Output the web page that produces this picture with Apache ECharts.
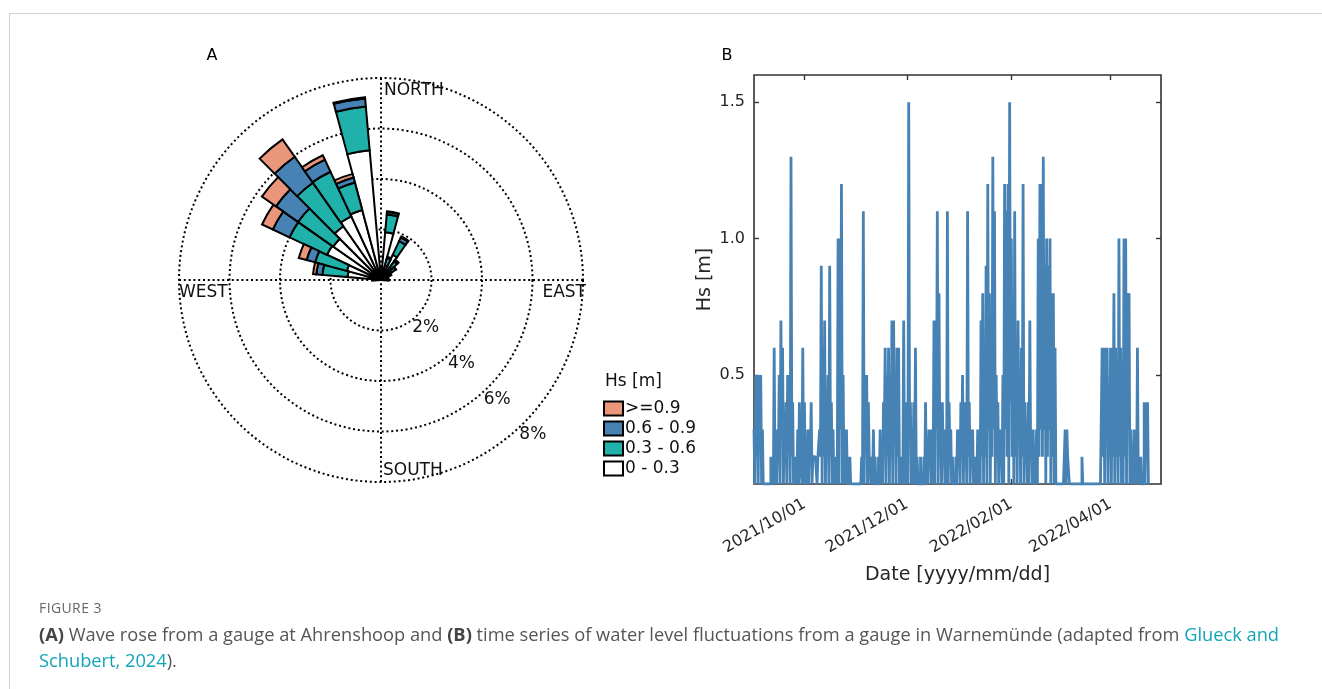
<!DOCTYPE html>
<html>
<head>
<meta charset="utf-8">
<script src="https://cdn.jsdelivr.net/npm/echarts@6/dist/echarts.min.js"></script>
<style>
html,body{margin:0;padding:0;background:#fff;}
#wrap{position:relative;width:1322px;height:689px;overflow:hidden;background:#fff;}
#chart{position:absolute;left:0;top:0;width:1322px;height:689px;}
#topline{position:absolute;left:9px;top:13px;right:0;height:1px;background:#d2d2d2;}
#leftline{position:absolute;left:9px;top:13px;width:1px;bottom:0;background:#d2d2d2;}
#figlabel{position:absolute;left:39px;top:598px;font-family:"Open Sans",sans-serif;font-size:14px;color:#666;letter-spacing:0.4px;}
#caption{position:absolute;left:39px;top:621px;width:1280px;font-family:"Open Sans",sans-serif;font-size:18.25px;line-height:26px;color:#555;}
#caption b{color:#444;font-weight:700;}
#caption span.ln{color:#12a4b8;}
</style>
</head>
<body>
<div id="wrap">
  <div id="topline"></div>
  <div id="leftline"></div>
  <div id="chart"></div>
  <div id="figlabel">FIGURE 3</div>
  <div id="caption"><b>(A)</b> Wave rose from a gauge at Ahrenshoop and <b>(B)</b> time series of water level fluctuations from a gauge in Warnemünde (adapted from <span class="ln">Glueck and<br>Schubert, 2024</span>).</div>
</div>
<script>
// ---------------- DATA ----------------
// Wave rose: 36 direction sectors (degrees clockwise from north)
const directions = ['0°','10°','20°','30°','40°','50°','60°','70°','80°','90°','100°','110°','120°','130°','140°','150°','160°','170°',
                    '180°','190°','200°','210°','220°','230°','240°','250°','260°','270°','280°','290°','300°','310°','320°','330°','340°','350°'];
const hsClasses = ['0 - 0.3','0.3 - 0.6','0.6 - 0.9','>=0.9'];
// frequency (%) per direction for each Hs class
const freqHs0 = [0.4,1.9,0.6,1.1,0.6,0.5,0.35,0.3,0.3,0.3,0,0,0,0,0,0,0,0,0,0,0,0,0,0,0,0,0,0.35,1.33,1.4,2.36,2.31,2.6,2.78,2.87,5.16];
const freqHs1 = [0.1,0.7,0.3,0.6,0.3,0.2,0.1,0,0,0,0,0,0,0,0,0,0,0,0,0,0,0,0,0,0,0,0,0,1.0,1.3,1.64,1.7,2.1,1.95,1.13,1.74];
const freqHs2 = [0,0.1,0.05,0.15,0.05,0.03,0,0,0,0,0,0,0,0,0,0,0,0,0,0,0,0,0,0,0,0,0,0,0.24,0.35,0.73,1.07,1.26,0.53,0.2,0.32];
const freqHs3 = [0,0.03,0,0.05,0.03,0,0,0,0,0,0,0,0,0,0,0,0,0,0,0,0,0,0,0,0,0,0,0,0.13,0.32,0.47,0.68,0.84,0.19,0.15,0.05];
const compassLabels = ['NORTH','EAST','SOUTH','WEST'];
const ringTicks = [2,4,6,8];
const ringMax = 8;

// Time series: one day per entry starting 2021-09-01 (daily peak and daily low of Hs [m])
const seriesStart = '2021-09-01';
const xRange = ['2021-09-01','2022-05-01'];
const hsPeak = [
0.3,0.5,0.5,0.5,0.5,0.3,0.1,0.1,0.1,0.1,
0.2,0.2,0.6,0.2,0.3,0.5,0.7,0.6,0.3,0.4,
0.5,0.5,1.3,0.4,0.2,0.2,0.3,0.4,0.2,0.6,
0.4,0.2,0.3,0.3,0.4,0.2,0.2,0.2,0.2,0.3,
0.9,0.6,0.7,0.4,0.5,0.9,0.4,0.3,0.2,0.2,
1.0,1.0,1.2,0.5,0.3,0.3,0.2,0.2,0.1,0.1,
0.1,0.1,0.1,0.1,0.2,1.1,0.5,0.5,0.4,0.2,
0.2,0.3,0.2,0.1,0.2,0.3,0.2,0.4,0.6,0.5,
0.6,0.4,0.7,0.7,0.5,0.6,0.6,0.2,0.2,0.7,
0.4,0.3,1.5,0.4,0.3,0.4,0.6,0.2,0.1,0.2,
0.1,0.2,0.4,0.2,0.3,0.3,0.2,0.7,0.7,1.1,
0.8,0.3,0.4,0.3,0.2,1.1,0.4,0.3,0.2,0.1,
0.2,0.3,0.3,0.4,0.5,0.4,0.3,1.1,0.4,0.3,
0.3,0.2,0.2,0.3,0.2,0.7,0.8,0.5,0.9,1.2,
0.8,0.6,1.3,1.1,0.5,0.4,0.3,0.3,0.5,1.2,
1.1,1.2,1.5,1.0,0.7,1.1,0.6,0.7,0.5,0.6,
1.2,0.4,0.3,0.4,0.7,0.3,0.3,0.2,0.3,1.0,
1.2,1.2,1.3,0.9,1.0,0.9,1.0,0.8,0.8,0.6,
0.1,0.1,0.1,0.1,0.1,0.3,0.3,0.2,0.1,0.1,
0.1,0.1,0.1,0.1,0.1,0.2,0.1,0.1,0.1,0.1,
0.1,0.1,0.1,0.1,0.1,0.1,0.1,0.6,0.6,0.6,
0.6,0.4,0.6,0.6,0.8,0.6,0.5,1.0,0.6,0.4,
1.0,1.0,0.8,0.8,0.3,0.2,0.3,0.2,0.6,0.2,
0.2,0.1,0.4,0.4,0.4];
const hsLow = [
0.1,0.2,0.1,0.3,0.1,0.1,0.1,0.1,0.1,0.1,
0.1,0.1,0.1,0.1,0.2,0.1,0.3,0.1,0.2,0.1,
0.3,0.1,0.2,0.1,0.1,0.1,0.1,0.2,0.1,0.1,
0.1,0.1,0.1,0.2,0.1,0.2,0.2,0.1,0.2,0.2,
0.1,0.2,0.1,0.2,0.1,0.2,0.1,0.1,0.1,0.1,
0.1,0.3,0.1,0.1,0.1,0.1,0.1,0.1,0.1,0.1,
0.1,0.1,0.1,0.1,0.1,0.1,0.3,0.1,0.2,0.1,
0.1,0.1,0.1,0.1,0.1,0.1,0.1,0.3,0.1,0.2,
0.1,0.2,0.1,0.3,0.1,0.2,0.1,0.1,0.1,0.1,
0.1,0.1,0.3,0.1,0.1,0.1,0.1,0.1,0.1,0.1,
0.1,0.1,0.1,0.1,0.2,0.1,0.1,0.1,0.3,0.1,
0.2,0.1,0.2,0.1,0.1,0.1,0.2,0.1,0.1,0.1,
0.1,0.2,0.1,0.2,0.1,0.2,0.1,0.2,0.1,0.2,
0.1,0.1,0.1,0.1,0.1,0.2,0.1,0.2,0.1,0.3,
0.1,0.2,0.3,0.1,0.2,0.1,0.2,0.1,0.1,0.3,
0.2,0.1,0.4,0.2,0.1,0.2,0.1,0.3,0.1,0.2,
0.1,0.2,0.1,0.1,0.2,0.1,0.1,0.1,0.1,0.2,
0.3,0.2,0.3,0.1,0.2,0.3,0.1,0.2,0.1,0.1,
0.1,0.1,0.1,0.1,0.1,0.1,0.2,0.1,0.1,0.1,
0.1,0.1,0.1,0.1,0.1,0.1,0.1,0.1,0.1,0.1,
0.1,0.1,0.1,0.1,0.1,0.1,0.1,0.2,0.1,0.3,
0.1,0.2,0.1,0.2,0.1,0.2,0.1,0.2,0.1,0.1,
0.2,0.1,0.3,0.1,0.1,0.1,0.1,0.1,0.1,0.1,
0.1,0.1,0.1,0.2,0.1];
const xTickDates = ['2021-10-01','2021-12-01','2022-02-01','2022-04-01'];
const yTicks = [0.5, 1.0, 1.5];
const yRange = [0.1, 1.6];

// ---------------- CHART ----------------
const FONT = '"DejaVu Sans", sans-serif';
const chart = echarts.init(document.getElementById('chart'), null, {renderer:'canvas'});
const cx = 381, cy = 280, R = 202;
const DAY = 86400000;
const toTs = s => Date.parse(s + 'T00:00:00Z');
const t0 = toTs(seriesStart);
const tsData = [];
hsPeak.forEach((p, i) => {
  tsData.push([t0 + i*DAY, p]);
  tsData.push([t0 + i*DAY + DAY/2, hsLow[i]]);
});
const pad = n => (n < 10 ? '0' : '') + n;
const fmtDate = v => { const d = new Date(v); return d.getUTCFullYear() + '/' + pad(d.getUTCMonth()+1) + '/' + pad(d.getUTCDate()); };
const xTickVals = xTickDates.map(toTs);

const classColors = ['#ffffff','#20b2aa','#4682b4','#e9967a'];
const freqs = [freqHs0, freqHs1, freqHs2, freqHs3];
const roseSeries = hsClasses.map((name, k) => ({
  name: name, type: 'bar', coordinateSystem: 'polar', polarIndex: 0, stack: 'hs',
  barCategoryGap: '0%',
  data: freqs[k].map(v => v === 0 ? '-' : v),
  itemStyle: {color: classColors[k], borderColor: '#000', borderWidth: 2},
  emphasis: {disabled: true}, silent: true
}));

// compass label placement (N, E, S, W)
const compassPos = [
  {x: cx + 3, y: cy - R + 4, align: 'left', va: 'top'},
  {x: cx + R + 3, y: cy + 4, align: 'right', va: 'top'},
  {x: cx + 2, y: cy + R - 3, align: 'left', va: 'bottom'},
  {x: cx - R, y: cy + 4, align: 'left', va: 'top'}
];
const graphics = [];
compassLabels.forEach((t, i) => {
  const p = compassPos[i];
  graphics.push({type:'text', x:p.x, y:p.y, style:{text:t, fontFamily:FONT, fontSize:17, fill:'#111', align:p.align, verticalAlign:p.va}, silent:true});
});
ringTicks.forEach(v => {
  const r = v / ringMax * R;
  const a = Math.PI/4;
  graphics.push({type:'text', x: cx + r*Math.cos(a) + 9, y: cy + r*Math.sin(a) + 12,
    style:{text: v + '%', fontFamily:FONT, fontSize:17, fill:'#111', align:'center', verticalAlign:'middle'}, silent:true});
});
graphics.push({type:'text', x:212, y:56, style:{text:'A', fontFamily:FONT, fontSize:16, fill:'#000', align:'center', verticalAlign:'middle'}});
graphics.push({type:'text', x:727, y:56, style:{text:'B', fontFamily:FONT, fontSize:16, fill:'#000', align:'center', verticalAlign:'middle'}});
graphics.push({type:'text', x:605, y:382, style:{text:'Hs [m]', fontFamily:FONT, fontSize:17, fill:'#111', align:'left', verticalAlign:'middle'}});

const dotted = {type:[2, 2.8], color:'#000', width:2};

const option = {
  animation: false,
  backgroundColor: 'transparent',
  polar: [
    {center:[cx, cy], radius: R},
    {center:[cx, cy], radius: R}
  ],
  angleAxis: [
    {polarIndex:0, type:'category', data:directions, startAngle:95, clockwise:true,
     axisLine:{show:false}, axisTick:{show:false}, axisLabel:{show:false}, splitLine:{show:false}},
    {polarIndex:1, type:'value', min:0, max:360, interval:90, startAngle:90, clockwise:true,
     axisLine:{show:false}, axisTick:{show:false}, axisLabel:{show:false}, splitLine:{show:true, lineStyle:dotted}}
  ],
  radiusAxis: [
    {polarIndex:0, type:'value', min:0, max:ringMax, axisLine:{show:false}, axisTick:{show:false}, axisLabel:{show:false}, splitLine:{show:false}},
    {polarIndex:1, type:'value', min:0, max:ringMax, interval:2, axisLine:{show:false}, axisTick:{show:false}, axisLabel:{show:false}, splitLine:{show:true, lineStyle:dotted}}
  ],
  legend: {
    data: hsClasses.slice().reverse(),
    orient: 'vertical', left: 603, top: 400, padding: 0,
    itemWidth: 19, itemHeight: 14, itemGap: 3,
    icon: 'rect',
    selectedMode: false,
    itemStyle: {borderColor:'#000', borderWidth:2},
    textStyle: {fontFamily: FONT, fontSize: 17, color:'#111', lineHeight:17, padding:[0,0,0,-3]}
  },
  grid: {left:754, top:75, width:407, height:409, show:true, borderColor:'#333', borderWidth:1.6, backgroundColor:'transparent'},
  xAxis: [
    {type:'value', gridIndex:0, position:'bottom', min: toTs(xRange[0]), max: toTs(xRange[1]),
     axisLine:{show:false},
     axisTick:{show:true, inside:true, length:5, customValues:xTickVals, lineStyle:{color:'#333', width:1.4}},
     axisLabel:{customValues:xTickVals, formatter: fmtDate, rotate:30, fontFamily:FONT, fontSize:16, color:'#262626', margin:19, hideOverlap:false},
     splitLine:{show:false},
     name:'Date [yyyy/mm/dd]', nameLocation:'middle', nameGap:82, nameTextStyle:{fontFamily:FONT, fontSize:19, color:'#262626', verticalAlign:'top'}},
    {type:'value', gridIndex:0, position:'top', min: toTs(xRange[0]), max: toTs(xRange[1]),
     axisLine:{show:false},
     axisTick:{show:true, inside:true, length:5, customValues:xTickVals, lineStyle:{color:'#333', width:1.4}},
     axisLabel:{show:false}, splitLine:{show:false}}
  ],
  yAxis: [
    {type:'value', gridIndex:0, position:'left', min:yRange[0], max:yRange[1],
     axisLine:{show:false},
     axisTick:{show:true, inside:true, length:5, customValues:yTicks, lineStyle:{color:'#333', width:1.4}},
     axisLabel:{customValues:yTicks, formatter: v => v.toFixed(1), fontFamily:FONT, fontSize:16, color:'#262626', margin:9, padding:[4,0,0,0]},
     splitLine:{show:false},
     name:'Hs [m]', nameLocation:'middle', nameGap:39, nameRotate:90, nameTextStyle:{fontFamily:FONT, fontSize:19, color:'#262626'}},
    {type:'value', gridIndex:0, position:'right', min:yRange[0], max:yRange[1],
     axisLine:{show:false},
     axisTick:{show:true, inside:true, length:5, customValues:yTicks, lineStyle:{color:'#333', width:1.4}},
     axisLabel:{show:false}, splitLine:{show:false}}
  ],
  series: roseSeries.concat([{
    name:'Hs', type:'line', xAxisIndex:0, yAxisIndex:0, data: tsData, step:'end', showSymbol:false, symbol:'none',
    lineStyle:{color:'#4682b4', width:2.8}, silent:true, z:3
  }]),
  graphic: graphics
};
chart.setOption(option);
</script>
</body>
</html>
